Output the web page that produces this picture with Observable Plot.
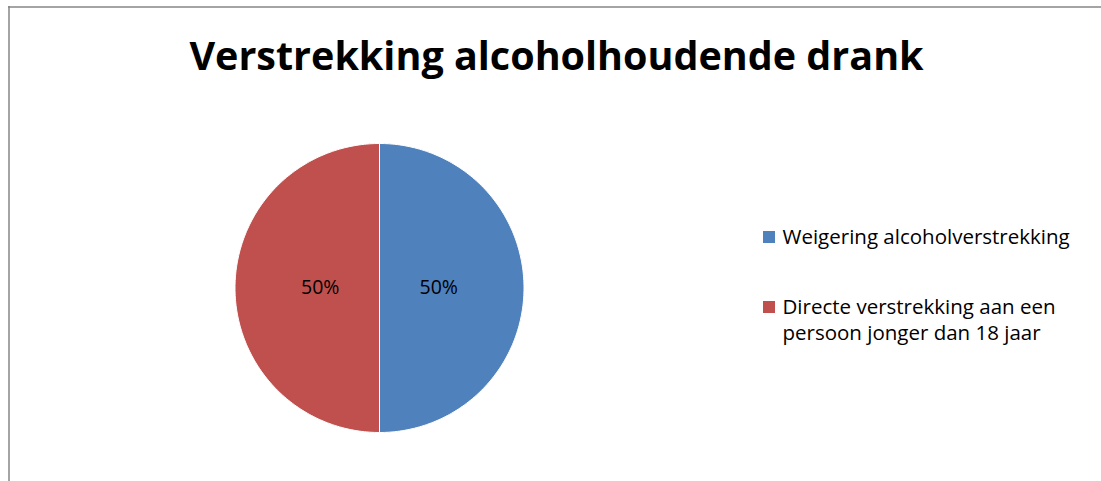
<!DOCTYPE html>
<html>
<head>
<meta charset="utf-8">
<script src="https://cdn.jsdelivr.net/npm/d3@7"></script>
<script src="https://cdn.jsdelivr.net/npm/@observablehq/plot@0.6"></script>
<style>
  html, body { margin: 0; padding: 0; background: #fff; overflow: hidden; }
  #wrap { position: relative; width: 1101px; height: 481px; }
  #chart svg { display: block; }
</style>
</head>
<body>
<div id="wrap"><div id="chart"></div></div>
<script>
const title = "Verstrekking alcoholhoudende drank";
const categories = ["Weigering alcoholverstrekking", "Directe verstrekking aan een persoon jonger dan 18 jaar"];
const legendLines = [["Weigering alcoholverstrekking"], ["Directe verstrekking aan een", "persoon jonger dan 18 jaar"]];
const values = [1, 1];
const colors = ["#4F81BD", "#C0504D"];

const W = 1101, H = 481;
const cx = 379, cy = 287.5, R = 144.5;
const font = "'Open Sans', sans-serif";

const pie = d3.pie().sort(null).value(d => d.value)(categories.map((c, i) => ({cat: c, value: values[i], color: colors[i]})));
const total = d3.sum(values);

const wedgePts = [];
pie.forEach((p, i) => {
  const n = 180;
  wedgePts.push({k: i, x: cx, y: cy, color: p.data.color});
  for (let j = 0; j <= n; j++) {
    const a = p.startAngle + (p.endAngle - p.startAngle) * j / n;
    wedgePts.push({k: i, x: cx + R * Math.sin(a), y: cy - R * Math.cos(a), color: p.data.color});
  }
  wedgePts.push({k: i, x: cx, y: cy, color: p.data.color});
});

const labels = pie.map(p => {
  const a = (p.startAngle + p.endAngle) / 2;
  const r = R * 0.41;
  return {x: cx + r * Math.sin(a), y: cy - r * Math.cos(a), text: Math.round(p.data.value / total * 100) + "%"};
});

const legendSq = categories.map((c, i) => ({i, color: colors[i]}));
const legendRows = [237, 307];
const legendText = [];
legendLines.forEach((lines, i) => lines.forEach((t, j) => legendText.push({t, x: 782, y: legendRows[i] + j * 26})));

const chart = Plot.plot({
  width: W, height: H,
  margin: 0,
  x: {domain: [0, W], range: [0, W], axis: null},
  y: {domain: [0, H], range: [0, H], axis: null},
  style: {fontFamily: font, background: "white"},
  marks: [
    Plot.ruleY([6.5], {x1: 8, x2: W, stroke: "#868686", strokeWidth: 1.5}),
    Plot.ruleX([8.5], {y1: 6, y2: H, stroke: "#868686", strokeWidth: 1.5}),
    Plot.text([title], {x: 556, y: 57, text: d => d, fontSize: 39.5, fontWeight: "bold", fill: "#000", textAnchor: "middle", lineAnchor: "middle"}),
    Plot.line(wedgePts, {x: "x", y: "y", z: "k", fill: "color", stroke: "white", strokeWidth: 1, curve: "linear"}),
    Plot.text(labels, {x: "x", y: "y", text: "text", fontSize: 19.5, fill: "#000", textAnchor: "middle", lineAnchor: "middle"}),
    Plot.rect(legendSq, {x1: 763, x2: 775, y1: d => legendRows[d.i] - 6, y2: d => legendRows[d.i] + 6, fill: "color"}),
    Plot.text(legendText, {x: "x", y: "y", text: "t", fontSize: 20.5, fill: "#000", textAnchor: "start", lineAnchor: "middle"})
  ]
});
document.getElementById("chart").appendChild(chart);
</script>
</body>
</html>
